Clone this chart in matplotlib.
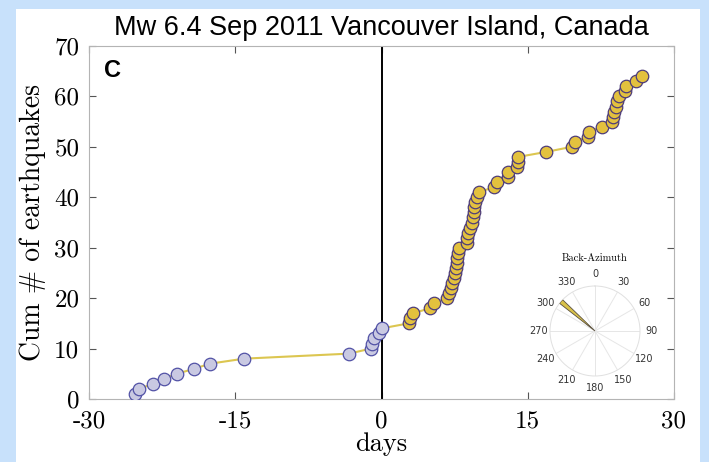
import numpy as np
import matplotlib
matplotlib.use("Agg")
import matplotlib.pyplot as plt
from matplotlib.patches import Rectangle

# days relative to the mainshock, before and after
days_pre = [-25.3, -24.9, -23.4, -22.3, -21.0, -19.2, -17.6, -14.1,
            -3.3, -1.1, -1.0, -0.8, -0.3, 0.0]
days_post = [2.8, 2.9, 3.2, 5.0, 5.4,
             6.7, 6.9, 7.1, 7.2, 7.4, 7.5, 7.6, 7.7, 7.7, 7.8, 7.9,
             8.8, 8.8, 8.9, 9.1, 9.3, 9.4, 9.5, 9.5, 9.6, 9.8, 10.0,
             11.5, 11.8, 13.0, 13.0, 13.9, 14.0, 14.0, 16.9,
             19.5, 19.8, 21.2, 21.3, 22.6, 23.6, 23.7, 23.8, 24.0, 24.2,
             24.4, 25.0, 25.1, 26.1, 26.7]

x_ticks = [-30, -15, 0, 15, 30]
x_ticklabels = ["-30", "-15", "0", "15", "30"]
y_ticks = [0, 10, 20, 30, 40, 50, 60, 70]

# back-azimuth rose: one bin (degrees) and its relative length
baz_bin = (308.0, 314.0)
baz_len = 1.0
baz_labels = [0, 30, 60, 90, 120, 150, 180, 210, 240, 270, 300, 330]

plt.rcParams["axes.unicode_minus"] = False

line_col = "#dcc650"
pre_face = "#c9c9e2"
pre_edge = "#5252a6"
post_face = "#e3c13e"
post_edge = "#4e3d7a"

fig = plt.figure(figsize=(7.09, 4.62), dpi=100)
fig.patch.set_facecolor("#c8e1fb")
# white panel behind the plot
fig.patches.append(Rectangle((16 / 709, 0), (700 - 16) / 709, (462 - 9) / 462,
                             transform=fig.transFigure, facecolor="white",
                             edgecolor="none", zorder=-10))

ax = fig.add_axes([89 / 709, (462 - 399) / 462, (674 - 89) / 709, (399 - 46) / 462])
ax.set_facecolor("white")

all_days = np.array(days_pre + days_post)
cum = np.arange(1, len(all_days) + 1)
n_pre = len(days_pre)

ax.axvline(0, color="black", lw=1.4, zorder=2)
ax.plot(all_days, cum, color=line_col, lw=1.5, zorder=3)
ax.plot(all_days[:n_pre], cum[:n_pre], "o", ms=9, mfc=pre_face,
        mec=pre_edge, mew=0.9, zorder=4)
ax.plot(all_days[n_pre:], cum[n_pre:], "o", ms=9, mfc=post_face,
        mec=post_edge, mew=0.9, zorder=4)

ax.set_xlim(-30, 30)
ax.set_ylim(0, 70)
ax.set_xticks(x_ticks)
ax.set_xticklabels(x_ticklabels)
ax.set_yticks(y_ticks)
for s in ax.spines.values():
    s.set_color("#b4b4b4")
    s.set_linewidth(0.8)
ax.tick_params(direction="in", length=5, width=0.8, color="#555555",
               top=True, right=True, labelsize=18)
ax.tick_params(axis="x", pad=8)
ax.tick_params(axis="y", pad=7)
for lab in ax.get_xticklabels() + ax.get_yticklabels():
    lab.set_family("cmr10")

ax.set_xlabel("days", family="cmr10", fontsize=19, labelpad=0)
ax.set_ylabel("Cum # of earthquakes", family="cmr10", fontsize=20, labelpad=6)
ax.set_title("Mw 6.4 Sep 2011 Vancouver Island, Canada",
             family="Liberation Sans", fontsize=19.5, pad=8)
ax.text(0.025, 0.962, "C", transform=ax.transAxes, family="Liberation Sans",
        fontsize=17, fontweight="bold", va="top", ha="left")

# back-azimuth rose inset
pax = fig.add_axes([550 / 709, (462 - 376) / 462, 90 / 709, 90 / 462],
                   projection="polar")
pax.set_theta_zero_location("N")
pax.set_theta_direction(-1)
pax.set_facecolor("white")
lo, hi = np.deg2rad(baz_bin[0]), np.deg2rad(baz_bin[1])
pax.bar((lo + hi) / 2, baz_len, width=hi - lo, color="#d9c24a",
        edgecolor="#5a5040", lw=0.6, zorder=3)
pax.set_ylim(0, 1)
pax.set_yticks([])
pax.set_thetagrids(baz_labels, [str(v) for v in baz_labels])
pax.tick_params(axis="x", labelsize=7, colors="#333333", pad=-2)
pax.grid(color="#e6e6e6", lw=0.7)
pax.spines["polar"].set_color("#e0e0e0")
pax.spines["polar"].set_linewidth(0.7)
pax.set_title("Back-Azimuth", family="cmr10", fontsize=7.5, pad=6)

fig.savefig("out.png", dpi=100, facecolor=fig.get_facecolor())
